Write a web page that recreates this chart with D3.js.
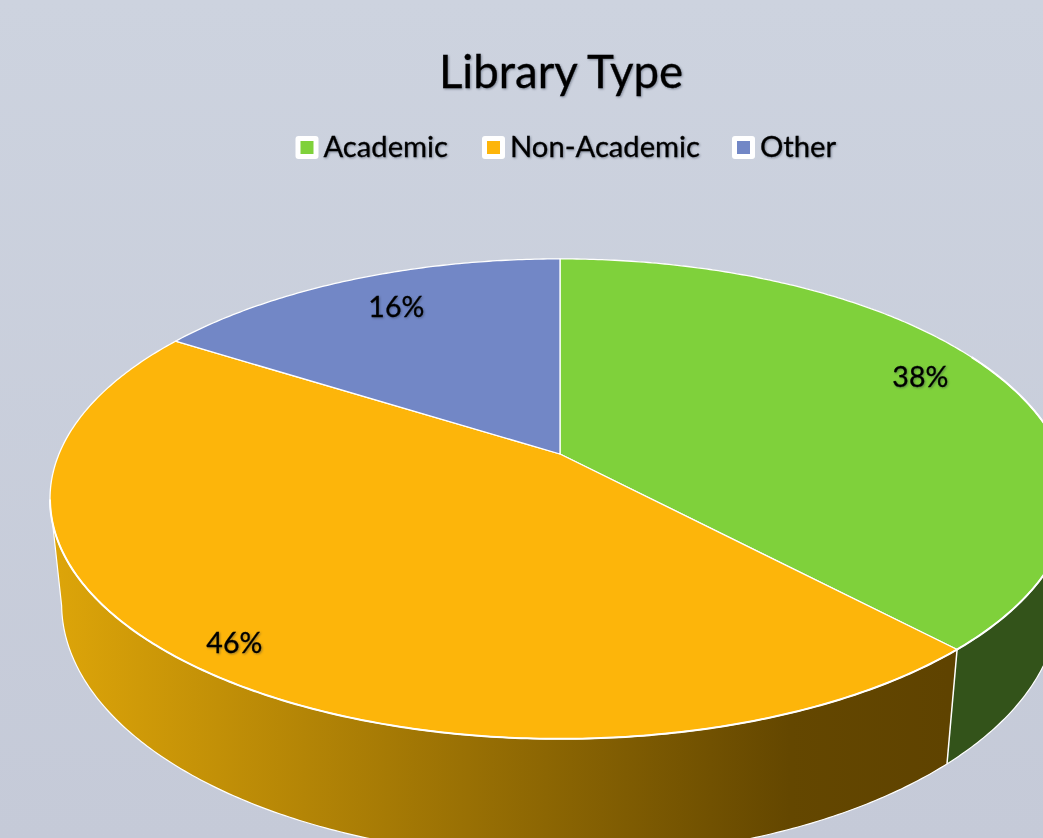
<!DOCTYPE html>
<html>
<head>
<meta charset="utf-8">
<title>Library Type</title>
<script src="https://cdn.jsdelivr.net/npm/d3@7"></script>
<style>
  html, body { margin: 0; padding: 0; overflow: hidden; }
  text {
    font-family: Lato, "Noto Sans", sans-serif;
    fill: #000;
    stroke: #000;
    stroke-width: 0.3px;
    filter: drop-shadow(1px 1px 1px rgba(40, 50, 70, 0.45));
  }
</style>
</head>
<body>
<div id="chart"></div>
<script>
// chart data
const categories = ["Academic", "Non-Academic", "Other"];
const shares = [38, 46, 16];
const labels = ["38%", "46%", "16%"];

const width = 1043,
    height = 838;

// pie plane is tilted: a point goes through a small perspective divide
const cx = 560, cy = 454;
const radiusX = 501, radiusY = 231.6;
const tilt = 0.187;          // near edge looks bigger than far edge
const depth = 105.8;         // thickness of the disc
const depthShrink = 0.0225;  // bottom rim is a bit smaller

function project(angle, r, z) {
    const u = r * Math.sin(angle),
        v = -r * Math.cos(angle),
        w = 1 - tilt * v + depthShrink * z;
    return [cx + radiusX * u / w, cy + (radiusY * v + depth * z) / w];
}

const color = d3.scaleOrdinal()
    .domain(categories)
    .range(["#7fd13b", "#fdb50a", "#7287c6"]);

const sideColor = d3.scaleOrdinal()
    .domain(categories)
    .range(["#33531a", "url(#orangeSide)", "#3b4a78"]);

const pie = d3.pie().sort(null);
const slices = pie(shares);

const svg = d3.select("#chart")
    .append("svg")
    .attr("width", width)
    .attr("height", height)
    .style("display", "block");

const defs = svg.append("defs");

const bg = defs.append("linearGradient")
    .attr("id", "bg")
    .attr("x1", 0).attr("y1", 0).attr("x2", 0).attr("y2", 1);
bg.append("stop").attr("offset", "0%").attr("stop-color", "#cdd3df");
bg.append("stop").attr("offset", "100%").attr("stop-color", "#c5cad8");

const orangeSide = defs.append("linearGradient")
    .attr("id", "orangeSide")
    .attr("gradientUnits", "userSpaceOnUse")
    .attr("x1", 60).attr("y1", 0).attr("x2", 950).attr("y2", 0);
orangeSide.append("stop").attr("offset", "0%").attr("stop-color", "#dca409");
orangeSide.append("stop").attr("offset", "82%").attr("stop-color", "#644700");
orangeSide.append("stop").attr("offset", "100%").attr("stop-color", "#5f4300");

svg.append("rect")
    .attr("width", width)
    .attr("height", height)
    .attr("fill", "url(#bg)");

const line = d3.line();
const step = 0.01;

function rim(a0, a1, z) {
    const n = Math.ceil((a1 - a0) / step);
    return d3.range(n + 1).map(i => project(a0 + (a1 - a0) * i / n, 1, z));
}

// the wall's left edge sits where the disc is widest to the left
const leftEdge = d3.least(d3.range(Math.PI, 2 * Math.PI, step), a => project(a, 1, 0.5)[0]);

// side walls first, only up to the left edge, the top face hides the back
svg.selectAll("path.side")
    .data(slices.filter(d => d.startAngle < leftEdge))
    .join("path")
    .attr("class", "side")
    .attr("d", d => {
        const end = Math.min(d.endAngle, leftEdge);
        return line(rim(d.startAngle, end, 0).concat(rim(d.startAngle, end, 1).reverse())) + "Z";
    })
    .attr("fill", (d, i) => sideColor(categories[i]));

// white outline of the wall
svg.append("path")
    .attr("d", line(rim(0, leftEdge, 1).concat([project(leftEdge, 1, 0)])))
    .attr("fill", "none")
    .attr("stroke", "#ffffff")
    .attr("stroke-width", 1.2);

svg.selectAll("path.edge")
    .data(slices.filter(d => d.endAngle < leftEdge))
    .join("path")
    .attr("class", "edge")
    .attr("d", d => line([project(d.endAngle, 1, 0), project(d.endAngle, 1, 1)]))
    .attr("stroke", "#ffffff")
    .attr("stroke-width", 1.5);

svg.selectAll("path.top")
    .data(slices)
    .join("path")
    .attr("class", "top")
    .attr("d", d => line([[cx, cy]].concat(rim(d.startAngle, d.endAngle, 0))) + "Z")
    .attr("fill", (d, i) => color(categories[i]))
    .attr("stroke", "#ffffff")
    .attr("stroke-width", 1.3)
    .attr("stroke-linejoin", "round");

// the near rim of the top face is drawn a bit heavier
svg.append("path")
    .attr("d", line(rim(1.1, leftEdge, 0)))
    .attr("fill", "none")
    .attr("stroke", "#ffffff")
    .attr("stroke-width", 2);

// data labels, nudged off the bisector like the original
const labelNudge = [-0.06, -0.016, 0.03];
const labelRadius = [0.847, 0.903, 0.815];

svg.selectAll("text.pct")
    .data(slices)
    .join("text")
    .attr("class", "pct")
    .attr("transform", (d, i) => {
        const p = project((d.startAngle + d.endAngle) / 2 + labelNudge[i], labelRadius[i], 0);
        return `translate(${p})`;
    })
    .attr("text-anchor", "middle")
    .attr("dominant-baseline", "central")
    .style("font-size", "28.5px")
    .text((d, i) => labels[i]);

svg.append("text")
    .attr("x", 561)
    .attr("y", 88)
    .attr("text-anchor", "middle")
    .style("font-size", "45.6px")
    .text("Library Type");

// legend
const legendX = [295.5, 482, 732];
const legend = svg.selectAll("g.legend")
    .data(categories)
    .join("g")
    .attr("class", "legend")
    .attr("transform", (d, i) => `translate(${legendX[i]}, 136)`);

legend.append("rect")
    .attr("width", 23)
    .attr("height", 23)
    .attr("rx", 3)
    .attr("fill", "#ffffff");

legend.append("rect")
    .attr("x", 5)
    .attr("y", 5)
    .attr("width", 13)
    .attr("height", 13)
    .attr("fill", d => color(d));

legend.append("text")
    .attr("x", 28)
    .attr("y", 9.5)
    .attr("dominant-baseline", "central")
    .style("font-size", "29.2px")
    .text(d => d);
</script>
</body>
</html>
